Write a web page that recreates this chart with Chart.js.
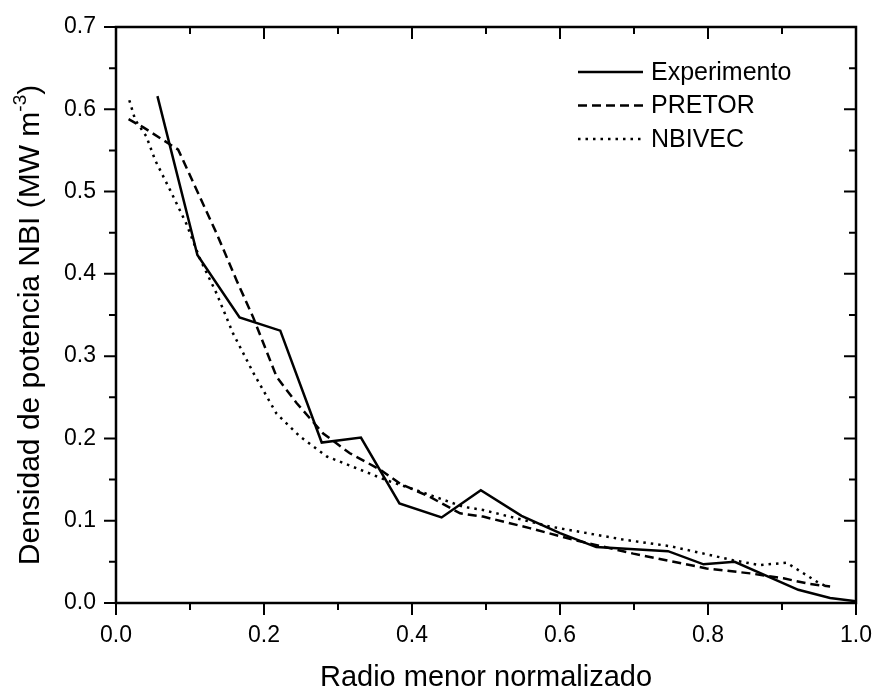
<!DOCTYPE html>
<html>
<head>
<meta charset="utf-8">
<script src="https://cdn.jsdelivr.net/npm/chart.js@4"></script>
<style>
  html, body { margin: 0; padding: 0; background: #fff; }
  #wrap { width: 876px; height: 691px; }
</style>
</head>
<body>
<div id="wrap"><canvas id="nbiChart" width="876" height="691"></canvas></div>
<script>
// values
const expX = [0.056, 0.110, 0.167, 0.222, 0.278, 0.331, 0.383, 0.440, 0.493, 0.548, 0.600, 0.649, 0.746, 0.794, 0.836, 0.922, 0.965, 1.0];
const expY = [0.616, 0.423, 0.347, 0.331, 0.195, 0.201, 0.121, 0.104, 0.137, 0.106, 0.085, 0.068, 0.063, 0.047, 0.050, 0.016, 0.006, 0.002];

const pretorX = [0.017, 0.037, 0.084, 0.109, 0.136, 0.163, 0.185, 0.217, 0.244, 0.280, 0.316, 0.357, 0.384, 0.424, 0.465, 0.496, 0.559, 0.622, 0.699, 0.798, 0.857, 0.902, 0.938, 0.965];
const pretorY = [0.588, 0.578, 0.551, 0.502, 0.449, 0.392, 0.348, 0.275, 0.243, 0.206, 0.182, 0.162, 0.145, 0.129, 0.109, 0.105, 0.091, 0.076, 0.060, 0.042, 0.036, 0.030, 0.023, 0.020];

const nbiX = [0.018, 0.026, 0.041, 0.053, 0.073, 0.095, 0.114, 0.136, 0.158, 0.186, 0.217, 0.249, 0.285, 0.330, 0.366, 0.406, 0.469, 0.496, 0.586, 0.686, 0.749, 0.834, 0.870, 0.906, 0.915, 0.947, 0.960];
const nbiY = [0.611, 0.587, 0.567, 0.538, 0.502, 0.461, 0.417, 0.376, 0.328, 0.279, 0.230, 0.202, 0.178, 0.162, 0.149, 0.137, 0.117, 0.113, 0.093, 0.077, 0.069, 0.052, 0.046, 0.049, 0.044, 0.026, 0.020];

const seriesNames = ["Experimento", "PRETOR", "NBIVEC"];

const xTicks = [0, 0.2, 0.4, 0.6, 0.8, 1.0];
const xTickLabels = ["0.0", "0.2", "0.4", "0.6", "0.8", "1.0"];
const xMinorTicks = [0.1, 0.3, 0.5, 0.7, 0.9];
const yTicks = [0, 0.1, 0.2, 0.3, 0.4, 0.5, 0.6, 0.7];
const yTickLabels = ["0.0", "0.1", "0.2", "0.3", "0.4", "0.5", "0.6", "0.7"];
const yMinorTicks = [0.05, 0.15, 0.25, 0.35, 0.45, 0.55, 0.65];

const xTitle = "Radio menor normalizado";
const yTitle = "Densidad de potencia NBI (MW m";
const yTitleSup = "-3";

function pts(xs, ys) {
    return xs.map((x, i) => ({ x: x, y: ys[i] }));
}

const FONT = "'Liberation Sans', Arial, sans-serif";

const framePlugin = {
    id: "frame",
    afterDraw(chart) {
        const ctx = chart.ctx;
        const a = chart.chartArea;
        const sx = chart.scales.x;
        const sy = chart.scales.y;
        const major = 12, minor = 7;

        ctx.save();
        ctx.strokeStyle = "#000";
        ctx.fillStyle = "#000";
        ctx.lineWidth = 2.5;
        ctx.strokeRect(a.left, a.top, a.right - a.left, a.bottom - a.top);

        ctx.lineWidth = 2;
        ctx.beginPath();
        // bottom outward, top inward
        xTicks.forEach(v => {
            const px = sx.getPixelForValue(v);
            ctx.moveTo(px, a.bottom); ctx.lineTo(px, a.bottom + major);
            ctx.moveTo(px, a.top); ctx.lineTo(px, a.top + major);
        });
        xMinorTicks.forEach(v => {
            const px = sx.getPixelForValue(v);
            ctx.moveTo(px, a.bottom); ctx.lineTo(px, a.bottom + minor);
            ctx.moveTo(px, a.top); ctx.lineTo(px, a.top + minor);
        });
        // left outward, right inward
        yTicks.forEach(v => {
            const py = sy.getPixelForValue(v);
            ctx.moveTo(a.left, py); ctx.lineTo(a.left - major, py);
            ctx.moveTo(a.right, py); ctx.lineTo(a.right - major, py);
        });
        yMinorTicks.forEach(v => {
            const py = sy.getPixelForValue(v);
            ctx.moveTo(a.left, py); ctx.lineTo(a.left - minor, py);
            ctx.moveTo(a.right, py); ctx.lineTo(a.right - minor, py);
        });
        ctx.stroke();

        // tick labels
        ctx.font = "23px " + FONT;
        ctx.textAlign = "center";
        ctx.textBaseline = "alphabetic";
        xTicks.forEach((v, i) => {
            ctx.fillText(xTickLabels[i], sx.getPixelForValue(v), a.bottom + 39);
        });
        ctx.textAlign = "right";
        ctx.textBaseline = "middle";
        yTicks.forEach((v, i) => {
            ctx.fillText(yTickLabels[i], a.left - 20, sy.getPixelForValue(v));
        });

        // axis titles
        ctx.font = "29px " + FONT;
        ctx.textAlign = "center";
        ctx.textBaseline = "alphabetic";
        ctx.fillText(xTitle, (a.left + a.right) / 2, 686);

        ctx.save();
        ctx.translate(39, 325);
        ctx.rotate(-Math.PI / 2);
        ctx.font = "30px " + FONT;
        const w1 = ctx.measureText(yTitle).width;
        ctx.font = "19px " + FONT;
        const w2 = ctx.measureText(yTitleSup).width;
        ctx.font = "30px " + FONT;
        const w3 = ctx.measureText(")").width;
        const x0 = -(w1 + w2 + w3) / 2;
        ctx.textAlign = "left";
        ctx.fillText(yTitle, x0, 0);
        ctx.font = "19px " + FONT;
        ctx.fillText(yTitleSup, x0 + w1, -13);
        ctx.font = "30px " + FONT;
        ctx.fillText(")", x0 + w1 + w2, 0);
        ctx.restore();

        // legend
        ctx.font = "25px " + FONT;
        ctx.textAlign = "left";
        ctx.textBaseline = "middle";
        chart.data.datasets.forEach((ds, i) => {
            const ly = 72 + i * 33.5;
            ctx.save();
            ctx.lineWidth = ds.borderWidth;
            ctx.setLineDash(ds.borderDash || []);
            ctx.beginPath();
            ctx.moveTo(578, ly);
            ctx.lineTo(643, ly);
            ctx.stroke();
            ctx.restore();
            ctx.fillText(ds.label, 651, ly + 1);
        });
        ctx.restore();
    }
};

const ctx = document.getElementById("nbiChart").getContext("2d");

new Chart(ctx, {
    type: "scatter",
    data: {
        datasets: [
            {
                label: seriesNames[0],
                data: pts(expX, expY),
                showLine: true,
                borderColor: "#000",
                borderWidth: 2.5,
                pointRadius: 0,
                tension: 0
            },
            {
                label: seriesNames[1],
                data: pts(pretorX, pretorY),
                showLine: true,
                borderColor: "#000",
                borderWidth: 2.5,
                borderDash: [9, 5],
                pointRadius: 0,
                tension: 0
            },
            {
                label: seriesNames[2],
                data: pts(nbiX, nbiY),
                showLine: true,
                borderColor: "#000",
                borderWidth: 2.5,
                borderDash: [2.5, 5],
                pointRadius: 0,
                tension: 0
            }
        ]
    },
    options: {
        responsive: false,
        animation: false,
        layout: { padding: { left: 116, top: 27, right: 20, bottom: 88 } },
        plugins: {
            legend: { display: false },
            tooltip: { enabled: false }
        },
        scales: {
            x: { type: "linear", min: 0, max: 1, display: false },
            y: { type: "linear", min: 0, max: 0.7, display: false }
        }
    },
    plugins: [framePlugin]
});
</script>
</body>
</html>
